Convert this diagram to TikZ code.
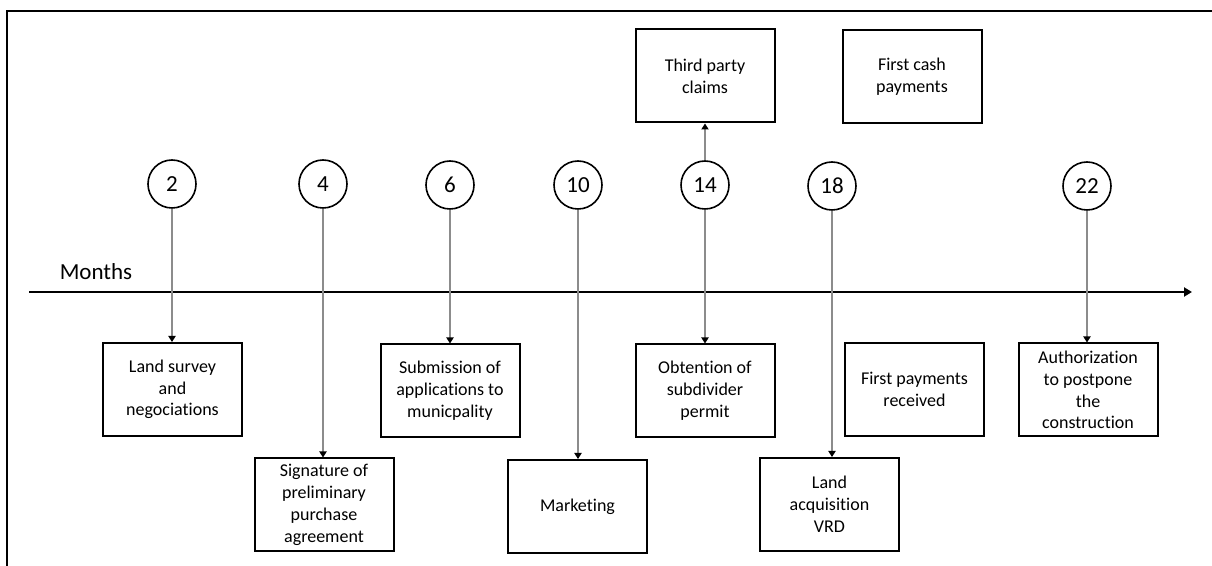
\documentclass[tikz,border=0pt]{standalone}
\usepackage{fontspec}
\setmainfont{Carlito}[Ligatures=NoCommon]
\usetikzlibrary{arrows.meta}
\begin{document}
\begin{tikzpicture}[x=0.5pt,y=-0.5pt,
  event/.style={draw=black, line width=1pt, minimum width=69.5pt, minimum height=46.5pt,
    inner sep=1pt, align=center, font=\fontsize{9}{10.9}\selectfont},
  month/.style={circle, draw=black, line width=0.8pt, minimum size=24pt, inner sep=0pt,
    font=\fontsize{11.5}{13}\selectfont},
  link/.style={draw=black!45, line width=0.65pt,
    -{Triangle[color=black, length=3pt, width=3.6pt]}},
  axis/.style={draw=black, line width=1pt, -{Triangle[length=4pt, width=4.5pt]}},
]
\useasboundingbox (0,0) rectangle (1212,566);
% frame (top and left edges)
\draw[line width=1pt] (7,566) -- (7,11) -- (1212,11);

% time axis
\coordinate (axS) at (29,292);
\coordinate (axE) at (1192,292);
\draw[axis] (axS) -- (axE);
\node[font=\fontsize{11.5}{13}\selectfont] (months) at (96,272) {Months};

% month markers
\node[month] (m2)  at (172,184) {2};
\node[month] (m4)  at (323,184) {4};
\node[month] (m6)  at (450,185) {6};
\node[month] (m10) at (578,185) {10};
\node[month] (m14) at (705,185) {14};
\node[month] (m18) at (832,186) {18};
\node[month] (m22) at (1087,186) {22};

% events
\node[event] (tpc)  at (705,76)    {Third party\\claims};
\node[event] (fcp)  at (912,76.5)  {First cash\\payments};
\node[event] (land) at (172.5,389.5) {Land survey\\and\\negociations};
\node[event] (sig)  at (324,505)   {Signature of\\preliminary\\purchase\\agreement};
\node[event] (sub)  at (450,391)   {Submission of\\applications to\\municpality};
\node[event] (mkt)  at (577.5,506.5) {Marketing};
\node[event] (obt)  at (705,391)   {Obtention of\\subdivider\\permit};
\node[event] (acq)  at (829.5,504.5) {Land\\acquisition\\VRD};
\node[event] (fpr)  at (914.5,389.5) {First payments\\received};
\node[event] (auth) at (1088,390)  {Authorization\\to postpone\\the\\construction};

% connectors
\draw[link] (m2.south)  -- (m2.south  |- land.north);
\draw[link] (m4.south)  -- (m4.south  |- sig.north);
\draw[link] (m6.south)  -- (m6.south  |- sub.north);
\draw[link] (m10.south) -- (m10.south |- mkt.north);
\draw[link] (m14.south) -- (m14.south |- obt.north);
\draw[link] (m14.north) -- (m14.north |- tpc.south);
\draw[link] (m18.south) -- (m18.south |- acq.north);
\draw[link] (m22.south) -- (m22.south |- auth.north);
\end{tikzpicture}
\end{document}
